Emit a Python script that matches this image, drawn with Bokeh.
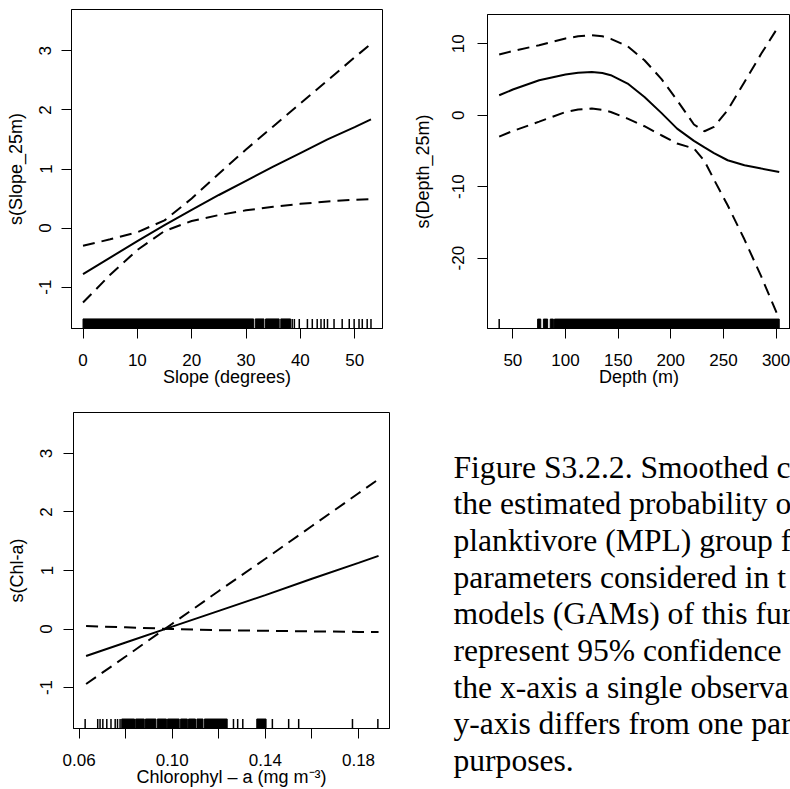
import math
from bokeh.plotting import figure
from bokeh.layouts import row, column
from bokeh.models import Range1d, FixedTicker, Label
from bokeh.embed import file_html
from bokeh.resources import INLINE

# ---------------- data ----------------
# Panel 1: Slope
slope_x = [0, 5, 10, 15, 20, 25, 30, 35, 40, 45, 50, 53]
slope_fit = [-0.78, -0.50, -0.22, 0.05, 0.31, 0.56, 0.80, 1.04, 1.27, 1.50, 1.71, 1.84]
slope_upper = [-0.30, -0.19, -0.07, 0.13, 0.50, 0.92, 1.33, 1.72, 2.11, 2.50, 2.89, 3.12]
slope_lower = [-1.26, -0.79, -0.37, -0.05, 0.12, 0.22, 0.30, 0.36, 0.41, 0.45, 0.48, 0.49]
slope_rug_blocks = [(0.0, 31.4), (31.7, 33.3), (33.6, 36.1), (36.4, 38.2)]
slope_rug_ticks = [38.5, 38.9, 39.8, 41.3, 42.2, 43.1, 43.8, 44.4, 45.0, 46.2,
                   47.7, 49.0, 49.9, 50.8, 51.4, 52.3, 53.0]
slope_xticks = [0, 10, 20, 30, 40, 50]
slope_xlabels = ["0", "10", "20", "30", "40", "50"]

# Panel 2: Depth
depth_x = [37, 50, 75, 100, 112, 125, 135, 143, 159, 175, 191, 206, 222, 232, 241, 254,
           270, 286, 303]
depth_fit = [2.8, 3.6, 4.9, 5.7, 5.95, 6.06, 5.9, 5.6, 4.43, 2.56, 0.33, -1.87, -3.59,
             -4.5, -5.3, -6.3, -7.0, -7.46, -7.93]
depth_upper = [8.5, 9.0, 9.8, 10.75, 11.05, 11.2, 11.05, 10.7, 9.65, 7.7, 5.1, 2.1, -1.3,
               -2.24, -1.63, 0.7, 4.66, 8.63, 12.6]
depth_lower = [-3.0, -2.2, -0.9, 0.45, 0.8, 0.93, 0.75, 0.46, -0.47, -1.54, -2.8, -3.96,
               -4.66, -6.4, -9.0, -12.6, -17.4, -22.6, -28.5]
depth_rug_blocks = [(73.5, 76.5), (79.0, 83.0), (85.5, 88.5), (89.5, 303.0)]
depth_rug_ticks = [37.0]
depth_xticks = [50, 100, 150, 200, 250, 300]
depth_xlabels = ["50", "100", "150", "200", "250", "300"]
depth_yticks = [-20, -10, 0, 10]
depth_ylabels = ["-20", "-10", "0", "10"]

# Panel 3: Chlorophyll-a
chl_x = [0.063, 0.08, 0.10, 0.12, 0.14, 0.16, 0.18, 0.1886]
chl_fit = [-0.46, -0.23, 0.04, 0.31, 0.58, 0.86, 1.13, 1.25]
chl_upper = [-0.94, -0.47, 0.09, 0.65, 1.20, 1.76, 2.32, 2.56]
chl_lower = [0.05, 0.03, 0.00, -0.02, -0.03, -0.04, -0.05, -0.05]
chl_rug_blocks = [(0.0783, 0.0838), (0.0843, 0.0880), (0.0885, 0.0930), (0.0936, 0.0975),
                  (0.0980, 0.1030), (0.1036, 0.1065), (0.1070, 0.1100), (0.1106, 0.1132),
                  (0.1138, 0.1236), (0.1363, 0.1403)]
chl_rug_ticks = [0.0626, 0.0680, 0.0690, 0.0702, 0.0719, 0.0737, 0.0755, 0.0765, 0.0776,
                 0.1263, 0.1281, 0.1303, 0.1430, 0.1500, 0.1543, 0.1774, 0.1883]
chl_xticks = [0.06, 0.08, 0.10, 0.12, 0.14, 0.16, 0.18]
chl_xlabels = ["0.06", "", "0.10", "", "0.14", "", "0.18"]

small_yticks = [-1, 0, 1, 2, 3]
small_ylabels = ["-1", "0", "1", "2", "3"]

caption_lines = [
    "Figure S3.2.2. Smoothed c",
    "the estimated probability o",
    "planktivore (MPL) group f",
    "parameters considered in t",
    "models (GAMs) of this fur",
    "represent 95% confidence",
    "the x-axis a single observa",
    "y-axis differs from one par",
    "purposes.",
]

FONT = "Liberation Sans"
TICK_FS = "17px"
TITLE_FS = "18px"
DASH = "12 7"


def panel(width, height, xr, yr, left, right, top, bottom,
          xticks, xlabels, yticks, ylabels, xtitle, ytitle,
          x, fit, upper, lower, rug_blocks, rug_ticks,
          xls=15, xts=-2, yls=9, yts=9):
    p = figure(width=width, height=height, x_range=Range1d(*xr), y_range=Range1d(*yr),
               output_backend="svg", toolbar_location=None,
               min_border_left=left, min_border_right=right,
               min_border_top=top, min_border_bottom=bottom)
    p.grid.visible = False
    p.outline_line_color = "black"
    p.outline_line_width = 1
    p.background_fill_color = "white"
    p.border_fill_color = "white"

    p.xaxis.ticker = FixedTicker(ticks=xticks)
    p.xaxis.major_label_overrides = dict(zip(xticks, xlabels))
    p.yaxis.ticker = FixedTicker(ticks=yticks)
    p.yaxis.major_label_overrides = dict(zip(yticks, ylabels))
    p.xaxis.axis_label = xtitle
    p.yaxis.axis_label = ytitle
    for ax in (p.xaxis[0], p.yaxis[0]):
        ax.major_tick_out = 10
        ax.major_tick_in = 0
        ax.minor_tick_out = 0
        ax.minor_tick_in = 0
        ax.major_tick_line_color = "black"
        ax.axis_line_color = "black"
        ax.major_label_text_font = FONT
        ax.major_label_text_font_size = TICK_FS
        ax.major_label_text_color = "black"
        ax.axis_label_text_font = FONT
        ax.axis_label_text_font_size = TITLE_FS
        ax.axis_label_text_font_style = "normal"
        ax.axis_label_text_color = "black"
    p.xaxis.major_label_standoff = xls
    p.xaxis.axis_label_standoff = xts
    p.yaxis.major_label_standoff = yls
    p.yaxis.axis_label_standoff = yts
    p.yaxis.major_label_orientation = "parallel"

    p.line(x, fit, line_color="black", line_width=2)
    p.line(x, upper, line_color="black", line_width=2, line_dash=DASH)
    p.line(x, lower, line_color="black", line_width=2, line_dash=DASH)

    y0 = yr[0]
    h = 0.03 * (yr[1] - yr[0])
    if rug_blocks:
        p.quad(left=[b[0] for b in rug_blocks], right=[b[1] for b in rug_blocks],
               bottom=[y0] * len(rug_blocks), top=[y0 + h] * len(rug_blocks),
               fill_color="black", line_color="black", line_width=1)
    if rug_ticks:
        p.segment(x0=rug_ticks, y0=[y0] * len(rug_ticks), x1=rug_ticks,
                  y1=[y0 + h] * len(rug_ticks), line_color="black", line_width=1.5)
    return p


p1 = panel(400, 395, (-2.12, 55.12), (-1.7, 3.7), 71, 18, 9, 67,
           slope_xticks, slope_xlabels, small_yticks, small_ylabels,
           "Slope (degrees)", "s(Slope_25m)",
           slope_x, slope_fit, slope_upper, slope_lower, slope_rug_blocks, slope_rug_ticks,
           yls=10, yts=11)

p2 = panel(390, 395, (25.9, 313.7), (-29.85, 14.1), 87, 0, 14, 67,
           depth_xticks, depth_xlabels, depth_yticks, depth_ylabels,
           "Depth (m)", "s(Depth_25m)",
           depth_x, depth_fit, depth_upper, depth_lower, depth_rug_blocks, depth_rug_ticks,
           yls=13, yts=17)

p3 = panel(410, 394, (0.0576, 0.1933), (-1.7, 3.7), 73, 21, 17, 61,
           chl_xticks, chl_xlabels, small_yticks, small_ylabels,
           "Chlorophyl \u2013 a (mg m\u207b\u00b3)", "s(Chl-a)",
           chl_x, chl_fit, chl_upper, chl_lower, chl_rug_blocks, chl_rug_ticks,
           yls=11, yts=11)

pc = figure(width=380, height=394, x_range=Range1d(0, 380), y_range=Range1d(394, 0),
            output_backend="svg", toolbar_location=None, min_border=0,
            x_axis_type=None, y_axis_type=None)
pc.grid.visible = False
pc.outline_line_color = None
for i, line in enumerate(caption_lines):
    pc.add_layout(Label(x=43, y=71.7 + i * 36.67, text=line,
                        text_font="Liberation Serif", text_font_size="31.6px",
                        text_color="black", text_baseline="alphabetic"))

layout = column(row(column(p1), column(p2)), row(column(p3), column(pc)))
open("out.html", "w").write(file_html(layout, INLINE))
